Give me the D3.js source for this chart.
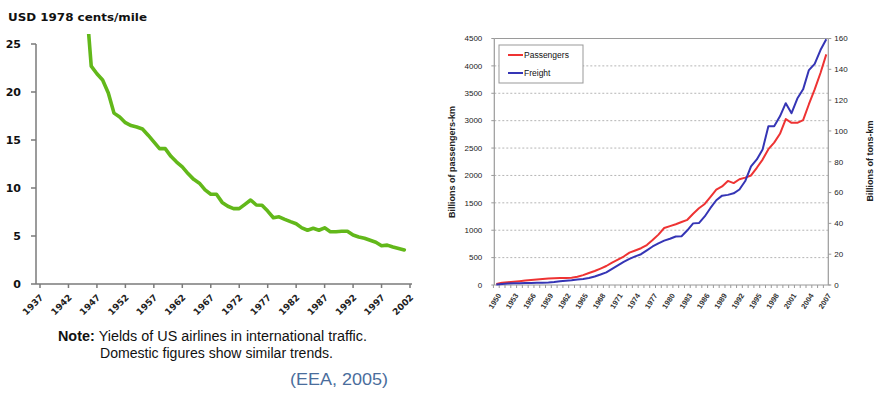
<!DOCTYPE html>
<html>
<head>
<meta charset="utf-8">
<script src="https://cdn.jsdelivr.net/npm/d3@7"></script>
<style>
  html, body { margin: 0; padding: 0; background: #fff; }
  svg { display: block; }
</style>
</head>
<body>
<svg id="chart" width="876" height="397"></svg>
<script>
// ---------- Left chart data: yields of US airlines (USD 1978 cents/mile) ----------
const yieldYears = d3.range(1945, 2002);
const yieldValues = [
  30.2, 22.7, 21.9, 21.25, 19.9, 17.8, 17.4, 16.8, 16.5, 16.35,
  16.15, 15.5, 14.8, 14.1, 14.1, 13.3, 12.7, 12.2, 11.5, 10.9,
  10.5, 9.8, 9.35, 9.35, 8.5, 8.1, 7.85, 7.85, 8.3, 8.75,
  8.23, 8.2, 7.6, 6.9, 7.0, 6.74, 6.5, 6.28, 5.85, 5.6,
  5.8, 5.6, 5.85, 5.45, 5.45, 5.5, 5.5, 5.1, 4.9, 4.76,
  4.55, 4.35, 3.98, 4.05, 3.85, 3.7, 3.55
];
const yieldTickYears = [1937, 1942, 1947, 1952, 1957, 1962, 1967, 1972, 1977, 1982, 1987, 1992, 1997, 2002];
const yieldTickValues = [0, 5, 10, 15, 20, 25];

// ---------- Right chart data: passengers & freight ----------
const trafficYears = d3.range(1950, 2008);
const passengers = [
  18, 40, 50, 58, 68, 80, 90, 100, 110, 118,
  124, 126, 127, 133, 150, 180, 220, 255, 300, 347,
  410, 465, 520, 590, 630, 671, 730, 820, 920, 1040,
  1075, 1110, 1150, 1190, 1300, 1400, 1480, 1610, 1740, 1800,
  1900, 1860, 1930, 1960, 2000, 2140, 2290, 2480, 2600, 2760,
  3030, 2960, 2960, 3010, 3300, 3570, 3870, 4210
];
const freight = [
  0.4, 0.7, 0.9, 1.1, 1.2, 1.3, 1.3, 1.4, 1.5, 1.7,
  2.0, 2.4, 2.8, 3.1, 3.5, 3.9, 4.6, 5.5, 6.8, 8.2,
  10.5, 12.8, 15.0, 16.9, 18.6, 20.0, 22.5, 25.0, 27.0, 28.8,
  30.0, 31.5, 31.6, 35.5, 40.0, 40.2, 44.5, 50.0, 55.0, 58.0,
  58.5, 59.5, 62.0, 67.5, 77.0, 81.5, 88.0, 103.0, 103.0, 109.5,
  118.0, 111.5, 121.0, 127.0, 139.5, 143.5, 152.5, 159.5
];
const passengerTicks = [0, 500, 1000, 1500, 2000, 2500, 3000, 3500, 4000, 4500];
const freightTicks = [0, 20, 40, 60, 80, 100, 120, 140, 160];
const trafficLabelYears = d3.range(1950, 2008, 3);
const seriesNames = ["Passengers", "Freight"];
const seriesColors = ["#ee3333", "#3535b5"];

const svg = d3.select("#chart");

// ================= LEFT CHART =================
(function () {
  const g = svg.append("g");
  const x = d3.scaleLinear().domain([1937, 2002]).range([40, 410]);
  const y = d3.scaleLinear().domain([0, 25]).range([284, 44]);
  const axisColor = "#7a7a7a";

  g.append("text").attr("x", 8).attr("y", 21)
    .attr("font-family", "DejaVu Sans").attr("font-weight", "bold")
    .attr("font-size", 11).attr("textLength", 139).attr("lengthAdjust", "spacingAndGlyphs")
    .attr("fill", "#111").text("USD 1978 cents/mile");

  // y axis
  g.append("line").attr("x1", 36).attr("x2", 36).attr("y1", y(25)).attr("y2", y(0))
    .attr("stroke", axisColor).attr("stroke-width", 1.5);
  yieldTickValues.forEach(v => {
    g.append("line").attr("x1", 31).attr("x2", 36).attr("y1", y(v)).attr("y2", y(v))
      .attr("stroke", axisColor).attr("stroke-width", 1.5);
    g.append("text").attr("x", 21).attr("y", y(v)).attr("dy", "0.35em")
      .attr("text-anchor", "end").attr("font-family", "DejaVu Sans")
      .attr("font-weight", "bold").attr("font-size", 11).attr("fill", "#111").text(v);
  });

  // x axis
  g.append("line").attr("x1", 36).attr("x2", 412).attr("y1", y(0)).attr("y2", y(0))
    .attr("stroke", axisColor).attr("stroke-width", 1.5);
  yieldTickYears.forEach(yr => {
    g.append("line").attr("x1", x(yr)).attr("x2", x(yr)).attr("y1", y(0)).attr("y2", y(0) + 4)
      .attr("stroke", axisColor).attr("stroke-width", 1.5);
    g.append("text")
      .attr("transform", `translate(${x(yr) + 4},${y(0) + 14}) rotate(-45)`)
      .attr("text-anchor", "end").attr("font-family", "DejaVu Sans")
      .attr("font-weight", "bold").attr("font-size", 9).attr("fill", "#222").text(yr);
  });

  // clip (line goes above the 25 mark and is cut)
  svg.append("defs").append("clipPath").attr("id", "leftClip")
    .append("rect").attr("x", 36).attr("y", 34).attr("width", 380).attr("height", 252);

  const line = d3.line().x((d, i) => x(yieldYears[i])).y(d => y(d));
  g.append("path").datum(yieldValues)
    .attr("clip-path", "url(#leftClip)")
    .attr("d", line).attr("fill", "none")
    .attr("stroke", "#62b81a").attr("stroke-width", 3.6)
    .attr("stroke-linejoin", "round").attr("stroke-linecap", "round");

  // Note
  const note = g.append("text").attr("x", 58).attr("y", 341)
    .attr("textLength", 309).attr("lengthAdjust", "spacingAndGlyphs")
    .attr("font-family", "Liberation Sans, Arial").attr("font-size", 14).attr("fill", "#111");
  note.append("tspan").attr("font-weight", "bold").text("Note: ");
  note.append("tspan").text("Yields of US airlines in international traffic.");
  g.append("text").attr("x", 100).attr("y", 358)
    .attr("textLength", 233).attr("lengthAdjust", "spacingAndGlyphs")
    .attr("font-family", "Liberation Sans, Arial").attr("font-size", 14).attr("fill", "#111")
    .text("Domestic figures show similar trends.");
  g.append("text").attr("x", 290).attr("y", 385)
    .attr("textLength", 98).attr("lengthAdjust", "spacingAndGlyphs")
    .attr("font-family", "Liberation Sans, Arial").attr("font-size", 16).attr("fill", "#4a6d9c")
    .text("(EEA, 2005)");
})();

// ================= RIGHT CHART =================
(function () {
  const g = svg.append("g");
  const L = 494.3, R = 828.3, T = 38.5, B = 285;
  const x = d3.scalePoint().domain(trafficYears).range([L, R]).padding(0.35);
  const step = x.step();
  const yL = d3.scaleLinear().domain([0, 4500]).range([B, T]);
  const yR = d3.scaleLinear().domain([0, 160]).range([B, T]);
  const axisColor = "#9a9a9a";
  const font = "Liberation Sans, Arial";

  // grid lines
  passengerTicks.filter(v => v > 0 && v < 4500).forEach(v => {
    g.append("line").attr("x1", L).attr("x2", R).attr("y1", yL(v)).attr("y2", yL(v))
      .attr("stroke", "#b5b5b5").attr("stroke-width", 1).attr("stroke-dasharray", "2,2");
  });

  // frame
  g.append("line").attr("x1", L).attr("x2", R).attr("y1", T).attr("y2", T)
    .attr("stroke", axisColor).attr("stroke-width", 1);
  g.append("line").attr("x1", L).attr("x2", L).attr("y1", T).attr("y2", B)
    .attr("stroke", axisColor).attr("stroke-width", 1.2);
  g.append("line").attr("x1", R).attr("x2", R).attr("y1", T).attr("y2", B)
    .attr("stroke", axisColor).attr("stroke-width", 1.2);
  g.append("line").attr("x1", L).attr("x2", R + 2).attr("y1", B).attr("y2", B)
    .attr("stroke", axisColor).attr("stroke-width", 1.2);

  // left ticks / labels
  passengerTicks.forEach(v => {
    g.append("line").attr("x1", L - 3).attr("x2", L).attr("y1", yL(v)).attr("y2", yL(v))
      .attr("stroke", axisColor);
    g.append("text").attr("x", L - 12).attr("y", yL(v)).attr("dy", "0.35em")
      .attr("text-anchor", "end").attr("font-family", font).attr("font-size", 8)
      .attr("fill", "#222").text(v);
  });
  // right ticks / labels
  freightTicks.forEach(v => {
    g.append("line").attr("x1", R).attr("x2", R + 3).attr("y1", yR(v)).attr("y2", yR(v))
      .attr("stroke", axisColor);
    g.append("text").attr("x", R + 6).attr("y", yR(v)).attr("dy", "0.35em")
      .attr("text-anchor", "start").attr("font-family", font).attr("font-size", 8)
      .attr("fill", "#222").text(v);
  });
  // bottom ticks (between categories)
  trafficYears.forEach(yr => {
    const xx = x(yr) - step / 2;
    g.append("line").attr("x1", xx).attr("x2", xx).attr("y1", B).attr("y2", B + 3)
      .attr("stroke", axisColor);
  });
  trafficLabelYears.forEach(yr => {
    g.append("text")
      .attr("transform", `translate(${x(yr) + 3},${B + 9}) rotate(-57)`)
      .attr("text-anchor", "end").attr("dy", "0.35em")
      .attr("font-family", font).attr("font-weight", "bold").attr("font-size", 7.5)
      .attr("fill", "#333").text(yr);
  });

  // axis titles
  g.append("text").attr("transform", `translate(455,162) rotate(-90)`)
    .attr("text-anchor", "middle").attr("font-family", font).attr("font-weight", "bold")
    .attr("font-size", 9).attr("fill", "#222").text("Billions of passengers-km");
  g.append("text").attr("transform", `translate(873,161) rotate(-90)`)
    .attr("text-anchor", "middle").attr("font-family", font).attr("font-weight", "bold")
    .attr("font-size", 9).attr("fill", "#222").text("Billions of tons-km");

  // lines
  const lineP = d3.line().x((d, i) => x(trafficYears[i])).y(d => yL(d));
  const lineF = d3.line().x((d, i) => x(trafficYears[i])).y(d => yR(d));
  g.append("path").datum(passengers).attr("d", lineP).attr("fill", "none")
    .attr("stroke", seriesColors[0]).attr("stroke-width", 2).attr("stroke-linejoin", "round");
  g.append("path").datum(freight).attr("d", lineF).attr("fill", "none")
    .attr("stroke", seriesColors[1]).attr("stroke-width", 2).attr("stroke-linejoin", "round");

  // legend
  const lg = g.append("g");
  lg.append("rect").attr("x", 499).attr("y", 45).attr("width", 84).attr("height", 38)
    .attr("fill", "#fff").attr("stroke", "#999").attr("stroke-width", 1);
  seriesNames.forEach((name, i) => {
    const yy = 55 + i * 18;
    lg.append("line").attr("x1", 508).attr("x2", 523).attr("y1", yy).attr("y2", yy)
      .attr("stroke", seriesColors[i]).attr("stroke-width", 2);
    lg.append("text").attr("x", 524).attr("y", yy).attr("dy", "0.35em")
      .attr("font-family", font).attr("font-size", 8.5).attr("fill", "#111").text(name);
  });
})();
</script>
</body>
</html>
